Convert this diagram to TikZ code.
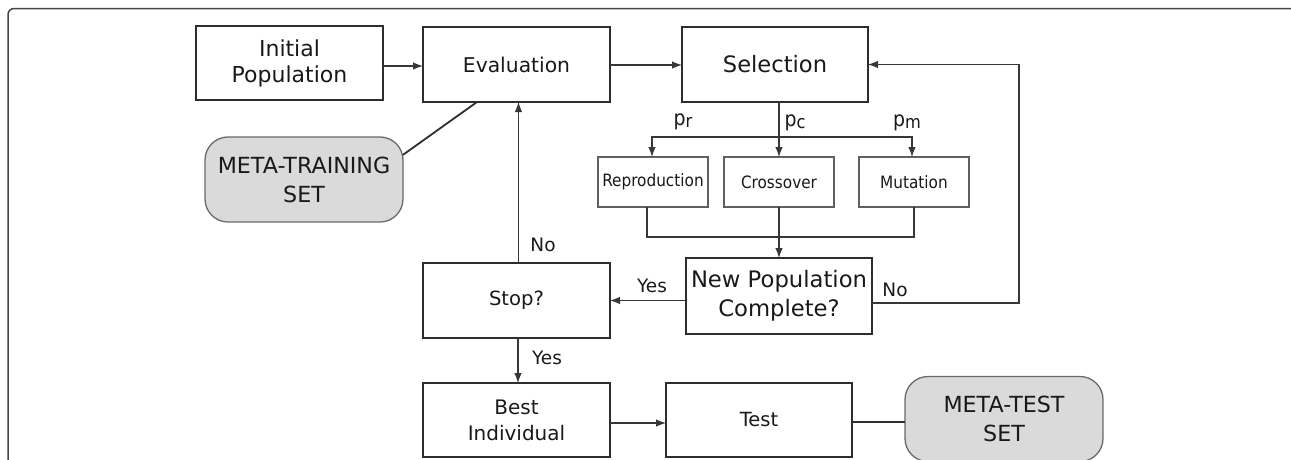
\documentclass[tikz,border=0pt]{standalone}
\usepackage{fontspec}
\setmainfont{DejaVu Sans}
\newfontfamily\condfont{DejaVu Sans Condensed}
\usetikzlibrary{arrows.meta,calc}
\definecolor{bx}{RGB}{45,45,45}
\definecolor{sbx}{RGB}{95,95,95}
\definecolor{ln}{RGB}{55,55,55}
\definecolor{tx}{RGB}{25,25,25}
\definecolor{gfill}{RGB}{218,218,218}
\definecolor{gbord}{RGB}{105,105,105}
\definecolor{frm}{RGB}{70,70,70}
\newcommand{\myfs}[2]{\fontsize{#1}{#2}\selectfont}
\begin{document}
\begin{tikzpicture}[x=1pt,y=-1pt,
  bigbox/.style={draw=bx, line width=1.8pt, inner sep=0pt, outer sep=0pt, align=center, text=tx},
  smallbox/.style={draw=sbx, line width=1.3pt, inner sep=0pt, outer sep=0pt, minimum width=110pt, minimum height=50pt, align=center, text=tx, font=\condfont\myfs{17}{20}},
  metabox/.style={draw=gbord, fill=gfill, line width=1.3pt, rounded corners=23pt, inner sep=0pt, outer sep=0pt, minimum width=198pt, minimum height=85pt, align=center, text=tx, font=\myfs{22.2}{29}},
  conn/.style={draw=ln, line width=1.2pt},
  arr/.style={conn, -{Latex[length=10pt,width=7.5pt]}},
  metaln/.style={draw=bx, line width=1.8pt},
  lbl/.style={inner sep=0pt, text=tx, font=\myfs{18.5}{20}}
]
\useasboundingbox (0,0) rectangle (1291,459);
% frame
\draw[frm, line width=1.5pt, rounded corners=6pt] (8,480) -- (8,8.5) -- (1297,8.5) -- (1297,480);

% main boxes
\node[bigbox, minimum width=187pt, minimum height=74pt, font=\myfs{22}{26}] (init) at (289.5,63) {Initial\\Population};
\node[bigbox, minimum width=187pt, minimum height=75pt, font=\myfs{20.3}{24}] (eval) at (516.5,64.5) {Evaluation};
\node[bigbox, minimum width=186pt, minimum height=75pt, font=\myfs{22.6}{26}] (sel) at (775,64.5) {Selection};
\node[smallbox] (repro) at (653,182) {Reproduction};
\node[smallbox] (cross) at (779,182) {Crossover};
\node[smallbox] (mut) at (914,182) {Mutation};
\node[bigbox, minimum width=186pt, minimum height=76pt, font=\myfs{22.7}{29}] (newpop) at (779,296) {New Population\\Complete?};
\node[bigbox, minimum width=187pt, minimum height=75pt, font=\myfs{19.6}{24}] (stop) at (516.5,300.5) {Stop?};
\node[bigbox, minimum width=187pt, minimum height=74pt, font=\myfs{20}{26}] (best) at (516.5,420) {Best\\Individual};
\node[bigbox, minimum width=186pt, minimum height=74pt, font=\myfs{19.5}{24}] (test) at (759,420) {Test};
\node[metabox] (mtrain) at (304,179.5) {META-TRAINING\\SET};
\node[metabox] (mtest) at (1004,419) {META-TEST\\SET};

% probability labels
\node[lbl, font=\condfont\myfs{21}{22}] (pr) at (683,122) {p\raisebox{-2pt}{\myfs{18}{20}r}};
\node[lbl, font=\condfont\myfs{21}{22}] (pc) at (795,123) {p\raisebox{-2pt}{\myfs{18}{20}c}};
\node[lbl, font=\condfont\myfs{21}{22}] (pm) at (907,123) {p\raisebox{-2pt}{\myfs{18}{20}m}};

% coordinates
\coordinate (brc) at (779,137);
\coordinate (mg) at (779,237);
\coordinate (fbx) at (1019,200);

% connectors
\draw[arr] (init.east |- 0,66) -- (eval.west |- 0,66);
\draw[arr] (eval.east |- 0,65) -- (sel.west |- 0,65);
\draw[arr] (sel.south -| brc) -- (cross.north);
\draw[arr] (brc) -| ([xshift=-1pt]repro.north);
\draw[arr] (brc) -| ([xshift=-2pt]mut.north);
\draw[conn] ([xshift=-6pt]repro.south) |- (mg) -| (mut.south);
\draw[arr] (cross.south) -- (newpop.north);
\draw[arr] ([yshift=-7pt]newpop.east) -| (fbx) |- (sel.east);
\draw[arr] (newpop.west |- stop.east) -- (stop.east);
\draw[arr] ([xshift=2pt]stop.north) -- ([xshift=2pt]eval.south);
\draw[arr] ([xshift=1.5pt]stop.south) -- ([xshift=1.5pt]best.north);
\draw[arr] (best.east |- 0,423) -- (test.west |- 0,423);
\draw[metaln] (test.east |- 0,422) -- (mtest.west |- 0,422);
\draw[metaln] ([xshift=-39.5pt]eval.south) -- (mtrain.14);

% connector labels
\node[lbl] (lno1) at (895,290) {No};
\node[lbl] (lyes1) at (652,286) {Yes};
\node[lbl] (lno2) at (543,245) {No};
\node[lbl] (lyes2) at (547,358) {Yes};
\end{tikzpicture}
\end{document}
